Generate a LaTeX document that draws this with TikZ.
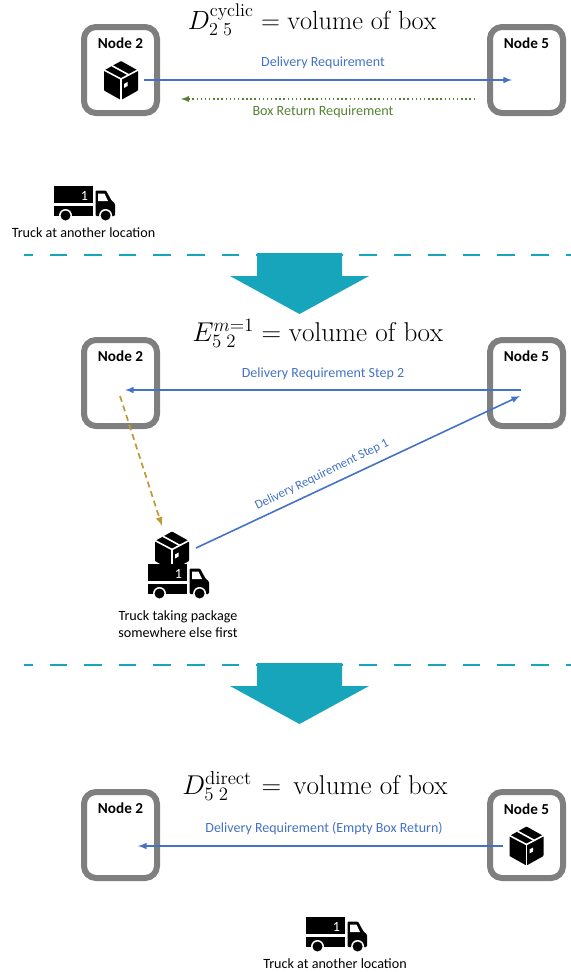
\documentclass[tikz,border=0pt]{standalone}
\usepackage{amsmath,amssymb}
\usepackage{fontspec}
\newfontfamily\lblfont{Carlito}
\usetikzlibrary{arrows,positioning,calc}
\definecolor{reqblue}{HTML}{4472C4}
\definecolor{retgreen}{HTML}{548235}
\definecolor{stepgold}{HTML}{C09A35}
\definecolor{flowteal}{HTML}{17A5BC}
\definecolor{boxgray}{HTML}{7F7F7F}
\tikzset{
    nodebox/.style={draw=boxgray, line width=4.5pt, rounded corners=9pt, minimum width=54.75pt, minimum height=64.5pt, inner sep=0pt},
    nodelabel/.style={font=\lblfont\bfseries\fontsize{11.4}{13}\selectfont, text=black, inner sep=0pt},
    reqlabel/.style={font=\lblfont\fontsize{10.5}{12}\selectfont, text=reqblue, inner sep=0pt},
    retlabel/.style={font=\lblfont\fontsize{10.6}{12}\selectfont, text=retgreen, inner sep=0pt},
    trucklabel/.style={font=\lblfont\fontsize{10.6}{12.7}\selectfont, text=black, inner sep=0pt, align=center},
    eqlabel/.style={font=\LARGE, anchor=base west, inner sep=0pt, transform shape},
    reqarrow/.style={->, >=latex, reqblue, line width=1.2pt},
    retarrow/.style={->, >=latex, retgreen, line width=1.1pt, dotted},
    steparrow/.style={->, >=latex, stepgold, line width=1.3pt, dash pattern=on 4.5pt off 3pt},
    sepline/.style={flowteal, line width=1pt, dash pattern=on 13.1pt off 12.7pt, dash phase=6.4pt},
    boxicon/.pic={
        \fill[black, rounded corners=0.6pt] (0,-19.5) -- (17,-10) -- (17,10) -- (0,19.5) -- (-17,10) -- (-17,-10) -- cycle;
        \draw[white, line width=1.2pt] (-17,-10.5) -- (0,-1.5) -- (17,-10.5);
        \draw[white, line width=1.2pt] (0,-1.5) -- (0,19.5);
        \draw[white, line width=1.2pt] (-9,-14.8) -- (8,-5.5);
        \fill[white] (3,3.5) -- (6.5,1.5) -- (6.5,5.5) -- (3,7.5) -- cycle;
    },
    truckicon/.pic={
        \fill[black] (0,0) rectangle (39,17);
        \fill[black] (0,20) rectangle (39,30);
        \fill[black, rounded corners=0.8pt] (41.5,4.5) -- (52,4.5) -- (57.5,14.5) -- (61,17.5) -- (61,30) -- (41.5,30) -- cycle;
        \fill[white] (44,7.5) -- (50.5,7.5) -- (54,15) -- (44,15) -- cycle;
        \fill[white] (11.5,29.5) circle (6.5);
        \fill[white] (51.6,29.5) circle (6.5);
        \fill[black] (11.5,29.5) circle (5);
        \fill[black] (51.6,29.5) circle (5);
        \node[font=\lblfont\fontsize{10.5}{12}\selectfont, text=white, inner sep=0pt] at (30.5,9.5) {1};
    },
    flowarrow/.pic={
        \fill[flowteal] (-42.5,0) -- (42.5,0) -- (42.5,23) -- (69.5,23) -- (0,61) -- (-69.5,23) -- (-42.5,23) -- cycle;
    }
}
\begin{document}
\begin{tikzpicture}[x=0.75pt, y=-0.75pt]
    \useasboundingbox (0,0) rectangle (571,972);

    % First case
    \node[eqlabel, scale=1.14] (eqa) at (187.5,29) {$D^{\mathrm{cyclic}}_{2\;5} = \mathrm{volume\ of\ box}$};
    \node[nodebox] (ntwoa) at (120.5,70) {};
    \node[nodebox] (nfivea) at (526.5,70) {};
    \node[nodelabel] (ntwolbla) at (120.5,43) {Node 2};
    \node[nodelabel] (nfivelbla) at (526.5,43.5) {Node 5};
    \pic (boxa) at (121,80.5) {boxicon};
    \coordinate (dsa) at (144,80);
    \coordinate (dea) at (512,80);
    \coordinate (rsa) at (475,99);
    \coordinate (rea) at (181,99);
    \draw[reqarrow] (dsa) -- (dea);
    \draw[retarrow] (rsa) -- (rea);
    \node[reqlabel] (dlbla) at (323,62.5) {Delivery Requirement};
    \node[retlabel] (rlbla) at (323,111.5) {Box Return Requirement};
    \pic (trucka) at (54,186) {truckicon};
    \node[trucklabel] (tlbla) at (83.5,232.5) {Truck at another location};

    % Separator
    \coordinate (sepas) at (24,255);
    \coordinate (sepae) at (571,255);
    \draw[sepline] (sepas) -- (sepae);
    \pic (flowa) at (299.5,253) {flowarrow};

    % Second case
    \node[eqlabel, scale=1.18] (eqb) at (192,341) {$E^{m=1}_{5\;2} = \mathrm{volume\ of\ box}$};
    \node[nodebox] (ntwob) at (120.5,383) {};
    \node[nodebox] (nfiveb) at (526.5,383) {};
    \node[nodelabel] (ntwolblb) at (120.5,356) {Node 2};
    \node[nodelabel] (nfivelblb) at (526.5,356) {Node 5};
    \coordinate (dsb) at (521,390);
    \coordinate (deb) at (125,390);
    \coordinate (dsc) at (196,548);
    \coordinate (dec) at (520,396);
    \coordinate (gs) at (120,396);
    \coordinate (ge) at (162,526);
    \draw[reqarrow] (dsb) -- (deb);
    \draw[reqarrow] (dsc) -- (dec);
    \draw[steparrow] (gs) -- (ge);
    \node[reqlabel] (dlblb) at (323,374) {Delivery Requirement Step 2};
    \node[reqlabel, font=\lblfont\fontsize{9.5}{11}\selectfont, rotate=26] (dlblc) at (322,474.5) {Delivery Requirement Step 1};
    \pic (boxb) at (172,551) {boxicon};
    \pic (truckb) at (148,564) {truckicon};
    \node[trucklabel] (tlblb) at (178,624) {Truck taking package\\somewhere else first};

    % Separator
    \coordinate (sepbs) at (24,665);
    \coordinate (sepbe) at (571,665);
    \draw[sepline] (sepbs) -- (sepbe);
    \pic (flowb) at (299.5,663) {flowarrow};

    % Third case
    \node[eqlabel, scale=1.18] (eqc) at (182,794) {$D^{\mathrm{direct}}_{5\;2}\mskip6.3mu{=}\mskip8mu\mathrm{volume\ of\ box}$};
    \node[nodebox] (ntwoc) at (120.5,835) {};
    \node[nodebox] (nfivec) at (526.5,835) {};
    \node[nodelabel] (ntwolblc) at (120.5,808.5) {Node 2};
    \node[nodelabel] (nfivelblc) at (526.5,809) {Node 5};
    \pic (boxc) at (526.5,846) {boxicon};
    \coordinate (dsd) at (502.5,846);
    \coordinate (ded) at (138,846);
    \draw[reqarrow] (dsd) -- (ded);
    \node[reqlabel] (dlbld) at (324,828) {Delivery Requirement (Empty Box Return)};
    \pic (truckc) at (306,917) {truckicon};
    \node[trucklabel] (tlblc) at (335,964) {Truck at another location};
\end{tikzpicture}
\end{document}
